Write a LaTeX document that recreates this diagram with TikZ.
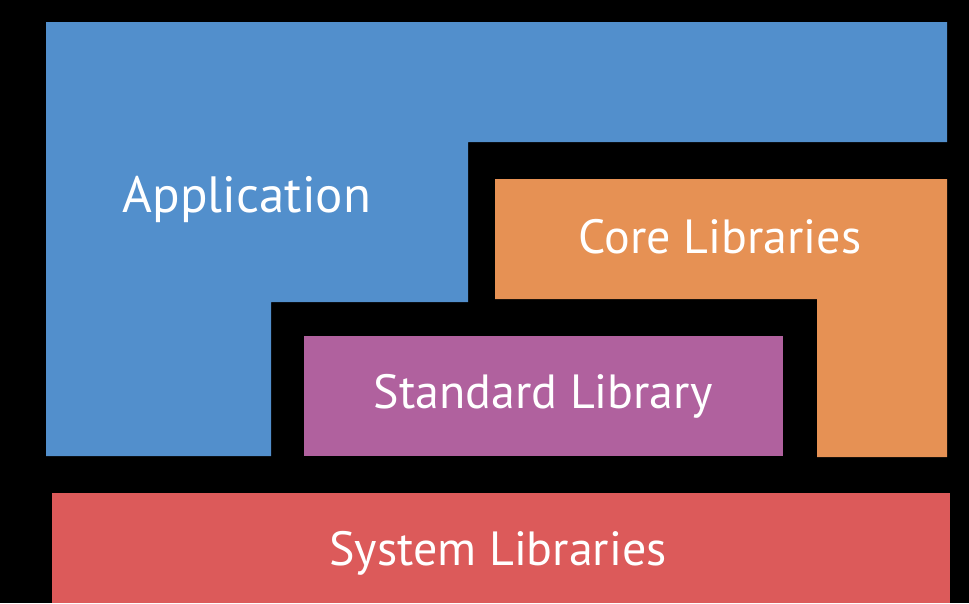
\documentclass[tikz,border=0pt]{standalone}
\usepackage{fontspec}
\setmainfont{PT Sans}
\definecolor{appblue}{RGB}{82,143,204}
\definecolor{coreorange}{RGB}{230,145,84}
\definecolor{stdpurple}{RGB}{176,97,158}
\definecolor{sysred}{RGB}{220,90,90}

\begin{document}
\begin{tikzpicture}[x=1pt,y=-1pt,
    blocktext/.style={text=white,anchor=base,inner sep=0pt,
                      font=\fontsize{48}{48}\selectfont}]
      \fill[black] (0,0) rectangle (969,603);

      % layers
      \fill[appblue] (46,22) -- (947,22) -- (947,142) -- (468,142)
            -- (468,302) -- (271,302) -- (271,456) -- (46,456) -- cycle;
      \fill[coreorange] (495,179) -- (947,179) -- (947,457) -- (817,457)
            -- (817,299) -- (495,299) -- cycle;
      \fill[stdpurple] (304,336) rectangle (783,456);
      \fill[sysred] (52,493) rectangle (950,603);

      \node[blocktext,font=\fontsize{51}{51}\selectfont] (app) at (247,212) {Application};
      \node[blocktext] (core) at (720,253) {Core Libraries};
      \node[blocktext] (std)  at (543,408) {Standard Library};
      \node[blocktext] (sys)  at (498,565) {System Libraries};

    \end{tikzpicture}
\end{document}
